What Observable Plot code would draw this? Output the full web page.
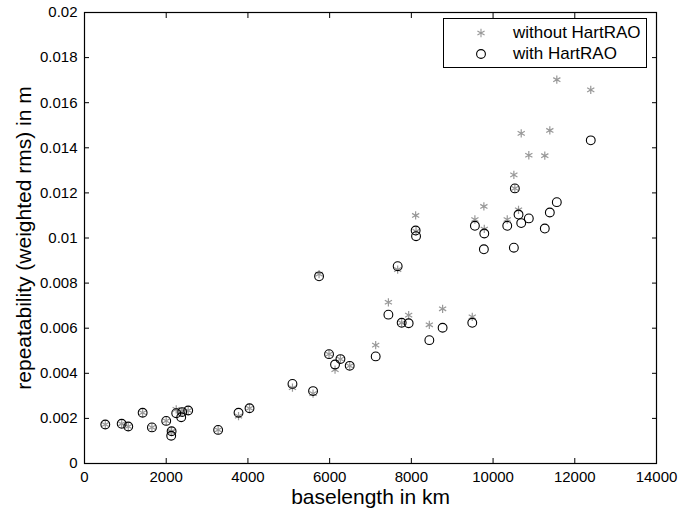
<!DOCTYPE html>
<html>
<head>
<meta charset="utf-8">
<script src="https://cdn.jsdelivr.net/npm/d3@7"></script>
<script src="https://cdn.jsdelivr.net/npm/@observablehq/plot@0.6"></script>
<style>
  html, body { margin: 0; padding: 0; background: #fff; }
  #wrap { position: relative; width: 682px; height: 519px; font-family: "Liberation Sans", Arial, Helvetica, sans-serif; }
  #legend { position: absolute; left: 443px; top: 18px; width: 204px; height: 50px; box-sizing: border-box;
            border: 1px solid #000; background: #fff; font-size: 17px; color: #000; }
  #legend .row { position: absolute; left: 0; height: 20px; display: flex; align-items: center; }
  #legend svg { position: absolute; left: 27px; top: 0; }
  #legend span { position: absolute; left: 69px; white-space: nowrap; line-height: 20px; top: 0; }
</style>
</head>
<body>
<div id="wrap"><div id="legend"></div></div>
<script>
// baseline length in km
const baselength = [509, 910, 1071, 1423, 1650, 2000, 2132, 2122, 2245, 2367, 2391, 2538, 3271, 3770, 4039,
  5090, 5594, 5741, 5985, 6132, 6264, 6491, 7127, 7438, 7665, 7763, 7934, 8105, 8115, 8440, 8765,
  9491, 9555, 9775, 9785, 10347, 10509, 10533, 10623, 10689, 10875, 11266, 11389, 11560, 12391];
// repeatability without HartRAO (m)
const withoutHartRAO = [0.00173, 0.00176, 0.00164, 0.00225, 0.0016, 0.00189, 0.00143, 0.0014, 0.0024, 0.0023, 0.00228, 0.00235, 0.00149, 0.0021, 0.00245,
  0.00336, 0.0031, 0.0084, 0.00485, 0.00416, 0.00463, 0.00433, 0.00525, 0.00715, 0.0086, 0.00624, 0.00658, 0.011, 0.0103, 0.00615, 0.00686,
  0.0065, 0.01082, 0.0114, 0.0104, 0.01082, 0.0128, 0.0122, 0.01125, 0.01464, 0.01367, 0.01365, 0.01477, 0.01702, 0.01657];
// repeatability with HartRAO (m)
const withHartRAO = [0.00173, 0.00176, 0.00164, 0.00225, 0.0016, 0.00189, 0.00143, 0.00123, 0.00223, 0.00205, 0.00228, 0.00235, 0.00149, 0.00225, 0.00245,
  0.00353, 0.00321, 0.0083, 0.00485, 0.00439, 0.00463, 0.00433, 0.00475, 0.0066, 0.00875, 0.00624, 0.00622, 0.01033, 0.01008, 0.00547, 0.00602,
  0.00624, 0.01054, 0.0095, 0.0102, 0.01054, 0.00957, 0.0122, 0.01104, 0.01066, 0.01087, 0.01042, 0.01113, 0.01159, 0.01433];

const xTicks = [0, 2000, 4000, 6000, 8000, 10000, 12000, 14000];
const yTicks = [0, 0.002, 0.004, 0.006, 0.008, 0.01, 0.012, 0.014, 0.016, 0.018, 0.02];
const xLabel = "baselength in km";
const yLabel = "repeatability (weighted rms) in m";
const seriesNames = ["without HartRAO", "with HartRAO"];

const rows = baselength.map((b, i) => ({b, without: withoutHartRAO[i], with: withHartRAO[i]}));
const yFmt = d => String(+d.toFixed(3));

const chart = Plot.plot({
  width: 682,
  height: 519,
  marginLeft: 84,
  marginRight: 26,
  marginTop: 12,
  marginBottom: 56,
  x: {domain: [0, 14000]},
  y: {domain: [0, 0.02]},
  style: {fontFamily: "'Liberation Sans', Arial, Helvetica, sans-serif", fontSize: "15px", color: "#000", background: "#fff"},
  marks: [
    Plot.axisX({ticks: xTicks, tickSize: -5, tickPadding: 13, tickFormat: d3.format("d"), label: null, stroke: "#000"}),
    Plot.axisX({anchor: "top", ticks: xTicks, tickSize: -5, tickFormat: () => "", label: null}),
    Plot.axisY({ticks: yTicks, tickSize: -5, tickPadding: 12, tickFormat: yFmt, label: null}),
    Plot.axisY({anchor: "right", ticks: yTicks, tickSize: -5, tickFormat: () => "", label: null}),
    Plot.dot(rows, {x: "b", y: "without", symbol: "asterisk", r: 3.9, stroke: "#999", strokeWidth: 1.2}),
    Plot.dot(rows, {x: "b", y: "with", r: 4.4, stroke: "#000", fill: "none", strokeWidth: 1.1}),
    Plot.frame({stroke: "#000", strokeWidth: 1.2}),
    Plot.text([xLabel], {text: d => d, frameAnchor: "bottom", dy: 40, fontSize: 21}),
    Plot.text([yLabel], {text: d => d, frameAnchor: "left", textAnchor: "middle", rotate: -90, dx: -60, fontSize: 21})
  ]
});
document.getElementById("wrap").prepend(chart);

// legend
const legend = document.getElementById("legend");
const symbols = [
  {sym: d3.symbolAsterisk, r: 3.9, stroke: "#999"},
  {sym: d3.symbolCircle, r: 4.4, stroke: "#000"}
];
seriesNames.forEach((name, i) => {
  const row = document.createElement("div");
  row.className = "row";
  row.style.top = (4 + i * 21) + "px";
  row.style.width = "100%";
  const svg = d3.create("svg").attr("width", 20).attr("height", 20);
  svg.append("path")
    .attr("transform", "translate(10,10)")
    .attr("d", d3.symbol(symbols[i].sym, Math.PI * symbols[i].r * symbols[i].r)())
    .attr("fill", "none").attr("stroke", symbols[i].stroke).attr("stroke-width", 1.1);
  row.appendChild(svg.node());
  const span = document.createElement("span");
  span.textContent = name;
  row.appendChild(span);
  legend.appendChild(row);
});
</script>
</body>
</html>
